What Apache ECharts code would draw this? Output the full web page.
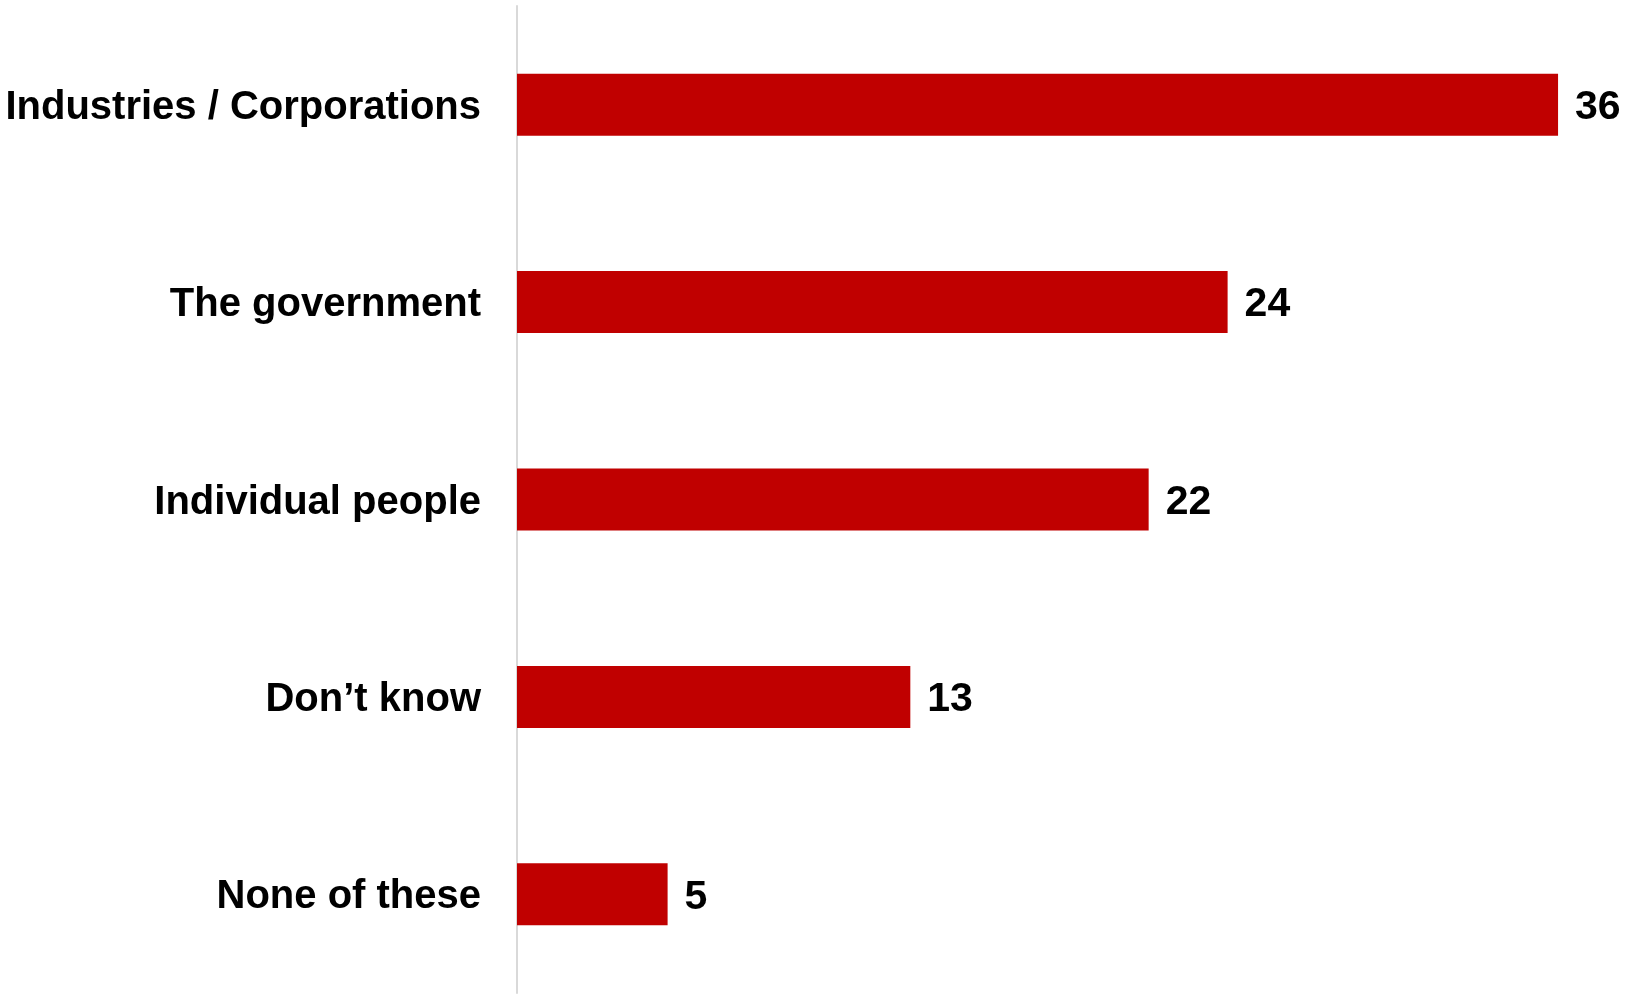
<!DOCTYPE html>
<html>
<head>
<meta charset="utf-8">
<script src="https://cdn.jsdelivr.net/npm/echarts@6/dist/echarts.min.js"></script>
<style>
html, body { margin: 0; padding: 0; background: #ffffff; }
#chart { width: 1627px; height: 995px; }
</style>
</head>
<body>
<div id="chart"></div>
<script>
var categories = ["Industries / Corporations", "The government", "Individual people", "Don\u2019t know", "None of these"];
var values = [35.6, 24.3, 21.6, 13.45, 5.15];

var chart = echarts.init(document.getElementById('chart'), null, { renderer: 'canvas' });
var font = '"Liberation Sans", Arial, Helvetica, sans-serif';
chart.setOption({
  animation: false,
  backgroundColor: '#ffffff',
  grid: { left: 517, top: 6, height: 987, width: 1082, containLabel: false },
  xAxis: {
    type: 'value', min: 0, max: 37,
    show: false,
    splitLine: { show: false }
  },
  yAxis: {
    type: 'category',
    data: categories,
    inverse: true,
    axisLine: { show: true, lineStyle: { color: '#d9d9d9', width: 2 } },
    axisTick: { show: false },
    axisLabel: {
      margin: 36,
      formatter: function (v) { return '{c|' + v + '}'; },
      rich: {
        c: {
          color: '#000000',
          fontFamily: font,
          fontWeight: 'bold',
          fontSize: 40,
          padding: [6, 0, 0, 0]
        }
      }
    }
  },
  series: [{
    type: 'bar',
    data: values,
    barWidth: 62,
    itemStyle: { color: '#C00000' },
    label: {
      show: true,
      position: 'right',
      distance: 17,
      offset: [0, 3],
      color: '#000000',
      fontFamily: font,
      fontWeight: 'bold',
      fontSize: 41,
      formatter: function (p) { return Math.round(p.value); }
    }
  }]
});
</script>
</body>
</html>
